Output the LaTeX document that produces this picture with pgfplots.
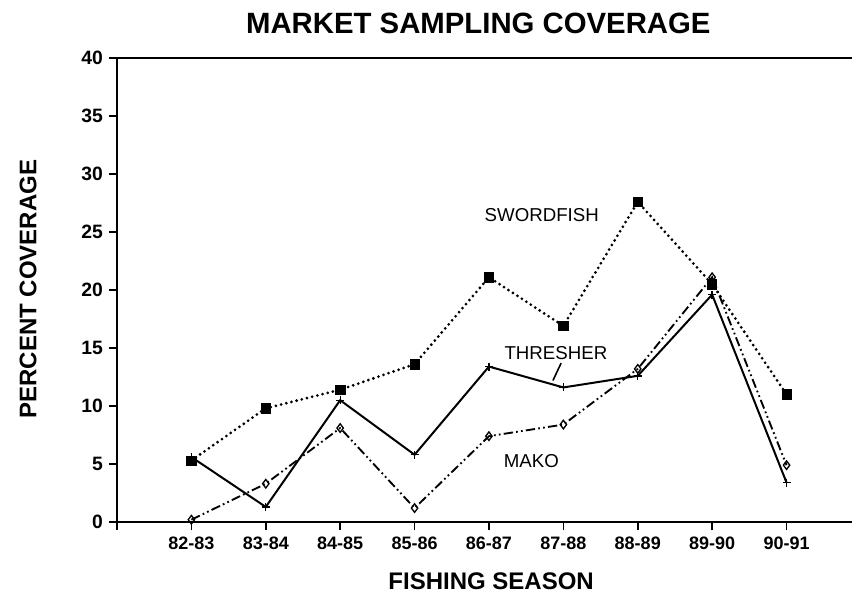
\documentclass[border=0pt]{standalone}
\usepackage{fontspec}
\setmainfont{Liberation Sans}
\usepackage{pgfplots}
\pgfplotsset{compat=1.18}
\begin{document}
\begin{tikzpicture}
\begin{axis}[
  scale only axis,
  width=551.25pt, height=348pt,
  xmin=-1, xmax=8.88, ymin=0, ymax=40,
  axis lines*=left,
  axis line style={line width=1.5pt},
  tick align=outside,
  major tick length=6pt,
  tick style={line width=1.2pt, black},
  xtick={-1,0,1,2,3,4,5,6,7,8},
  xticklabels={,82-83,83-84,84-85,85-86,86-87,87-88,88-89,89-90,90-91},
  ytick={0,5,...,40},
  /pgf/number format/assume math mode=true,
  xticklabel style={font=\fontsize{13.5}{14}\selectfont\bfseries, yshift=-2pt},
  yticklabel style={font=\fontsize{14.5}{15}\selectfont\bfseries, xshift=-1pt},
  xlabel={FISHING SEASON},
  ylabel={PERCENT COVERAGE},
  label style={font=\fontsize{18}{20}\selectfont\bfseries},
  xlabel style={at={(axis description cs:0.509,0)}, anchor=center, yshift=-44.25pt},
  ylabel style={at={(axis description cs:-0.1211,0.502)}, anchor=center},
  clip=false,
]
% top border line
\draw[line width=1.5pt] (rel axis cs:0,1) -- (rel axis cs:1,1);
% Swordfish
\addplot[black, line width=2.3pt, dash pattern=on 0pt off 4pt, line cap=round,
  mark=square*, mark size=3.5pt, mark options={solid, line width=0.5pt}]
  coordinates {(0,5.3) (1,9.8) (2,11.4) (3,13.6) (4,21.1) (5,16.9) (6,27.6) (7,20.5) (8,11.0)};
% Thresher
\addplot[black, line width=1.5pt,
  mark=+, mark size=3pt, mark options={solid, line width=1pt}]
  coordinates {(0,5.6) (1,1.3) (2,10.5) (3,5.8) (4,13.4) (5,11.6) (6,12.6) (7,19.6) (8,3.4)};
% Mako
\addplot[black, line width=1.4pt, dash pattern=on 7pt off 2.4pt on 1.3pt off 2.4pt on 1.3pt off 2.4pt,
  mark=diamond, mark size=3.2pt, mark options={solid, line width=1pt, fill=white}]
  coordinates {(0,0.2) (1,3.3) (2,8.1) (3,1.2) (4,7.4) (5,8.4) (6,13.2) (7,21.1) (8,4.9)};
% series labels
\node[font=\fontsize{14}{15}\selectfont] at (axis cs:4.71,26.5) {SWORDFISH};
\node[font=\fontsize{14}{15}\selectfont] at (axis cs:4.90,14.55) {THRESHER};
\node[font=\fontsize{14}{15}\selectfont] at (axis cs:4.57,5.27) {MAKO};
\draw[line width=1.2pt] (axis cs:4.97,13.7) -- (axis cs:4.86,12.2);
% title
\node[font=\fontsize{22}{24}\selectfont\bfseries] at (271pt,374.25pt) {MARKET SAMPLING COVERAGE};
\end{axis}
\pgfresetboundingbox
\path[use as bounding box] (-87.75pt,-56.25pt) rectangle (551.25pt,391.5pt);
\end{tikzpicture}
\end{document}
